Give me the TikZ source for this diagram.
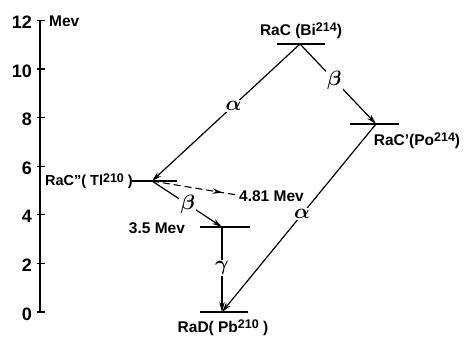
\documentclass[tikz,border=0pt]{standalone}
\usepackage{fontspec}
\setmainfont{Liberation Sans}
\usetikzlibrary{arrows.meta,decorations.markings}
\newcommand{\isosup}[1]{\raisebox{0.25em}{\fontsize{12.5}{13}\selectfont #1}}
\begin{document}
\begin{tikzpicture}[x=1pt,y=-1pt,
  lvl/.style={line width=1.1pt},
  axisline/.style={line width=1.2pt},
  decay/.style={line width=1.2pt,-{Stealth[length=10pt,width=5.5pt]}},
  lbl/.style={font=\bfseries\fontsize{15.5}{17}\selectfont, inner sep=0pt},
  elbl/.style={font=\bfseries\fontsize{15.5}{17}\selectfont, inner sep=0pt},
  greek/.style={fill=white, inner sep=1.5pt, font=\boldmath\fontsize{22}{24}\selectfont},
  ticklbl/.style={font=\bfseries\fontsize{18}{20}\selectfont, anchor=east, inner sep=0pt},
  midarrow/.style={dash pattern=on 7pt off 4pt, line width=1.1pt, postaction={decorate},
    decoration={markings, mark=at position 0.83 with {\arrow{Stealth[length=10pt,width=5.5pt]}}}}]
\useasboundingbox (0,0) rectangle (464,337);

% energy axis
\coordinate (axtop) at (40,20);
\coordinate (axbot) at (40,312);
\draw[axisline] (axtop) -- (axbot);
\foreach \e in {0,2,...,12}{
  \coordinate (t\e) at (40,{312-24.3*\e});
  \draw[lvl] ([xshift=-3pt]t\e) -- ([xshift=5pt]t\e);
  \node[ticklbl] (n\e) at ([xshift=-8pt,yshift=-2pt]t\e) {\e};
}
\node[font=\bfseries\fontsize{15.5}{17}\selectfont, anchor=west, inner sep=0pt] (mev) at (49,21) {Mev};

% levels
\coordinate (bi) at (300,44);
\coordinate (po) at (376,124);
\coordinate (tl) at (152,181);
\coordinate (ex) at (222,227);
\coordinate (pb) at (222,312);
\coordinate (d481) at (237,195);

\draw[lvl] ([xshift=-23pt]bi) -- ([xshift=25pt]bi);
\draw[lvl] ([xshift=-26pt]po) -- ([xshift=23pt]po);
\draw[lvl] ([xshift=-21pt]tl) -- ([xshift=25pt]tl);
\draw[lvl] ([xshift=-22pt]ex) -- ([xshift=28pt]ex);
\draw[lvl] ([xshift=-22pt]pb) -- ([xshift=26pt]pb);

% level labels
\node[lbl] (lbi) at (301,31) {RaC (Bi\isosup{214})};
\node[lbl] (lpo) at (417,141) {RaC'(Po\isosup{214})};
\node[lbl, anchor=east, font=\bfseries\fontsize{14.5}{16}\selectfont] (ltl) at (133,181) {RaC"( Tl\isosup{210} )};
\node[elbl] (lex) at (157,228) {3.5 Mev};
\node[elbl, anchor=west] (l481) at (239,196) {4.81 Mev};
\node[lbl] (lpb) at (223,328) {RaD( Pb\isosup{210} )};

% transitions
\draw[decay] (bi) -- node[greek, pos=0.45] {$\alpha$} (tl);
\draw[decay] (bi) -- node[greek, pos=0.45] {$\beta$} (po);
\draw[decay] (po) -- node[greek, pos=0.48] {$\alpha$} (pb);
\draw[decay] (tl) -- node[greek, pos=0.51] {$\beta$} (ex);
\draw[decay] (ex) -- node[greek, pos=0.48] {$\gamma$} (pb);
\draw[midarrow] (tl) -- (d481);
\end{tikzpicture}
\end{document}
